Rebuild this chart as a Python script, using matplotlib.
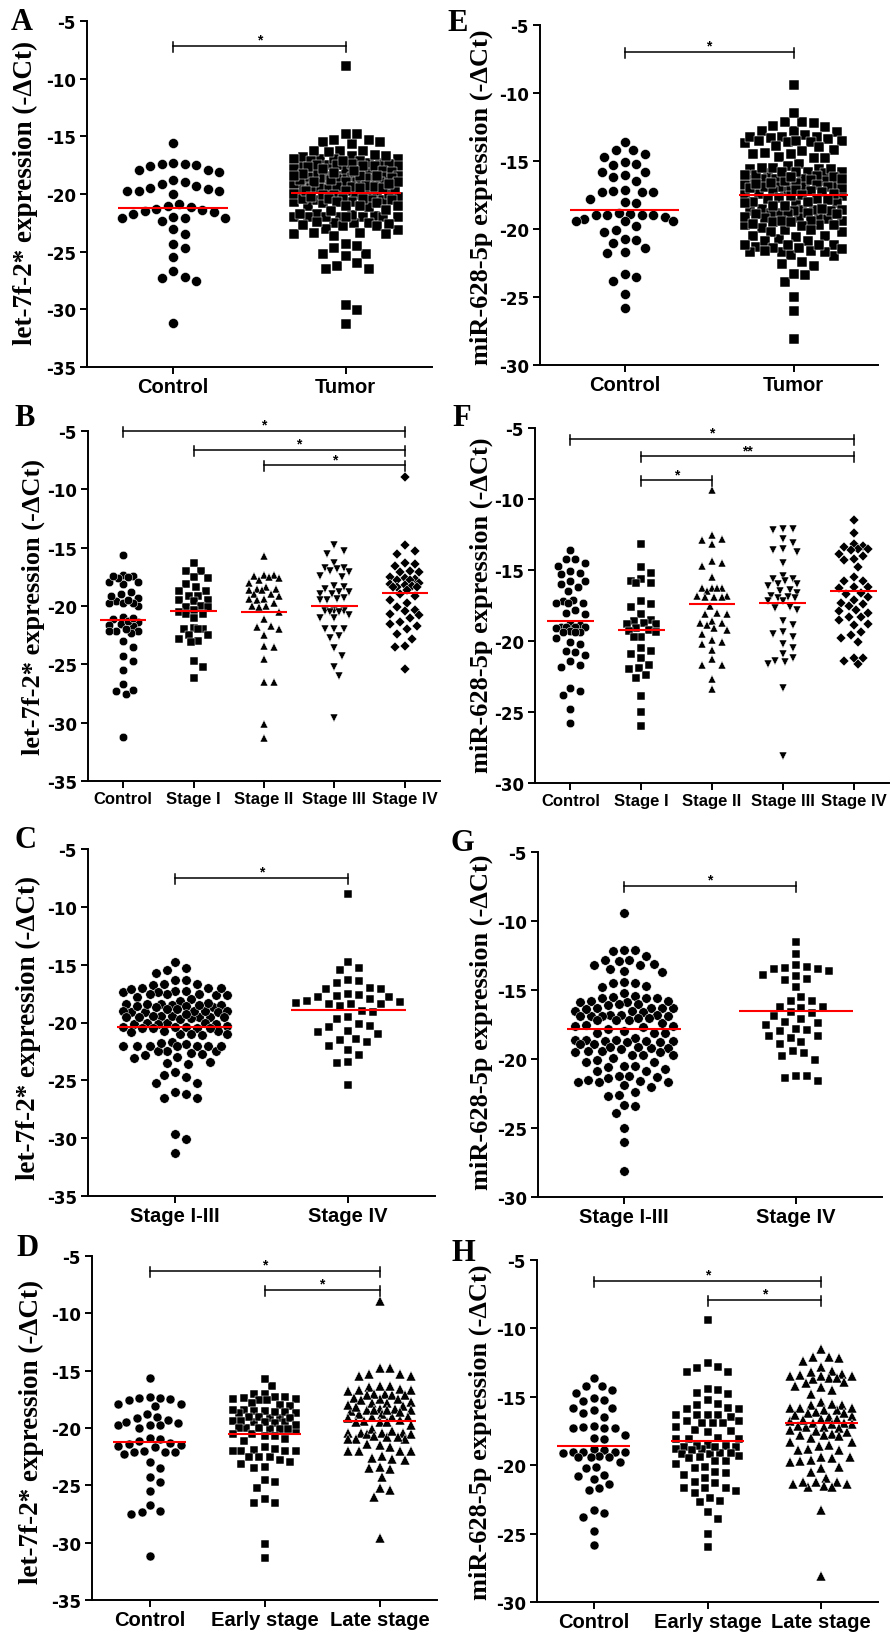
"""
Dot plots of let-7f-2* and miR-628-5p expression (-dCt) in control vs tumour
groups, laid out as the 2 x 4 panel figure (A-D left, E-H right).
Saves out.png at 891 x 1633 px.
"""

import numpy as np
import matplotlib
matplotlib.use('Agg')
import matplotlib.pyplot as plt

plt.rcParams['axes.unicode_minus'] = False

W, H = 891, 1633
SANS = 'Liberation Sans'
SERIF = 'Liberation Serif'
WIDE = 'DejaVu Sans'   # the y tick numbers in the original are wide

# ---- let-7f-2* values ----
let7_control = [-15.6, -17.3, -17.4, -17.5, -17.9, -18.1, -17.9, -17.6, -17.4, -18.8,
                -19.0, -19.3, -19.6, -19.7, -20.0, -19.7, -19.7, -19.5, -19.1,
                -20.9, -21.1, -21.4, -21.6, -21.7, -21.5, -21.3, -21.0,
                -22.1, -22.1, -22.3, -22.1, -22.0,
                -23.0, -23.5, -24.3, -24.7, -25.5, -26.7, -27.3, -27.5, -27.2, -31.2]
let7_stage1 = [-16.3, -17.0, -17.0, -17.5, -17.6, -18.1, -18.4, -18.7, -18.7, -19.1,
               -19.1, -19.5, -19.5, -19.6, -20.0, -20.1, -20.1, -20.3, -20.5, -20.7,
               -20.7, -21.0, -21.9, -22.0, -22.0, -22.0, -22.5, -22.5, -22.8, -23.0,
               -23.1, -24.7, -25.2, -26.2]
let7_stage2 = [-15.7, -17.3, -17.3, -17.4, -17.5, -17.6, -17.8, -18.0, -18.4, -18.5,
               -18.5, -18.6, -18.6, -19.0, -19.0, -19.1, -19.4, -19.4, -19.5, -19.7,
               -20.0, -20.0, -20.1, -20.5, -21.1, -21.7, -21.8, -22.0, -22.5, -23.4,
               -23.5, -24.5, -26.5, -26.5, -30.1, -31.3]
let7_stage3 = [-14.8, -15.3, -15.5, -16.3, -16.7, -16.7, -16.8, -17.0, -17.1, -17.4,
               -17.5, -18.3, -18.4, -18.5, -18.8, -18.8, -19.0, -19.0, -19.3, -19.4,
               -19.5, -19.5, -20.4, -20.4, -20.4, -20.5, -20.5, -20.8, -21.0, -21.0,
               -22.0, -22.0, -22.0, -22.6, -22.7, -23.6, -24.3, -25.2, -26.0, -29.6]
let7_stage4 = [-8.9, -14.8, -15.3, -15.5, -16.3, -16.4, -16.6, -17.0, -17.1, -17.1,
               -17.5, -17.6, -17.7, -17.8, -17.8, -18.0, -18.1, -18.2, -18.3, -18.4,
               -18.4, -18.4, -18.6, -19.0, -19.1, -19.5, -19.7, -20.1, -20.3, -20.4,
               -20.7, -20.8, -21.0, -21.4, -21.5, -21.7, -22.0, -22.4, -22.8, -23.4,
               -23.5, -25.4]

# ---- miR-628-5p values ----
mir_control = [-13.6, -14.2, -14.2, -14.5, -14.7, -15.1, -15.2, -15.3, -15.8, -15.8,
               -16.0, -16.2, -16.5, -17.1, -17.2, -17.3, -17.3, -17.3, -17.8, -18.0,
               -18.1, -18.8, -18.9, -19.0, -19.0, -19.0, -19.0, -19.1, -19.3, -19.4,
               -19.4, -19.4, -19.8, -20.1, -20.2, -20.7, -20.8, -21.0, -21.4, -21.7,
               -21.8, -23.3, -23.5, -23.8, -24.8, -25.8]
mir_stage1 = [-13.2, -14.8, -15.2, -15.6, -15.8, -15.9, -15.9, -17.2, -17.4, -17.6,
              -18.1, -18.5, -18.6, -18.7, -18.8, -18.8, -19.1, -19.2, -19.3, -19.4,
              -19.7, -19.7, -20.5, -20.7, -20.9, -21.2, -21.7, -21.9, -22.0, -22.4,
              -22.6, -23.9, -25.0, -26.0]
mir_stage2 = [-9.4, -12.5, -12.8, -12.9, -13.2, -14.4, -14.5, -14.7, -15.5, -16.3,
              -16.3, -16.3, -16.3, -16.5, -16.8, -16.8, -16.9, -16.9, -16.9, -17.5,
              -18.0, -18.1, -18.1, -18.6, -18.7, -18.7, -18.9, -19.1, -19.2, -19.5,
              -19.9, -20.1, -20.2, -20.6, -21.3, -21.7, -21.7, -22.7, -23.4]
mir_stage3 = [-12.1, -12.1, -12.2, -12.8, -13.1, -13.5, -13.6, -13.7, -14.5, -15.4,
              -15.6, -15.6, -15.8, -16.0, -16.0, -16.1, -16.4, -16.5, -16.6, -16.8,
              -16.9, -17.0, -17.0, -17.2, -17.2, -17.6, -17.7, -17.8, -18.6, -18.9,
              -19.4, -19.5, -19.7, -20.2, -20.5, -20.9, -21.2, -21.4, -21.5, -21.6,
              -23.3, -28.1]
mir_stage4 = [-11.5, -12.4, -13.2, -13.3, -13.4, -13.5, -13.5, -13.6, -13.9, -14.0,
              -14.2, -14.3, -14.8, -15.5, -15.8, -15.8, -16.2, -16.2, -16.3, -16.6,
              -16.7, -16.9, -17.1, -17.3, -17.4, -17.5, -17.8, -17.9, -18.0, -18.3,
              -18.3, -18.5, -18.8, -18.9, -19.4, -19.6, -19.8, -20.1, -21.2, -21.2,
              -21.4, -21.6]

# pooled groups used by panels A/C/D and E/G/H
let7_tumor = let7_stage1 + let7_stage2 + let7_stage3 + let7_stage4
let7_stage1_3 = let7_stage1 + let7_stage2 + let7_stage3
let7_early = let7_stage1 + let7_stage2
let7_late = let7_stage3 + let7_stage4
mir_tumor = mir_stage1 + mir_stage2 + mir_stage3 + mir_stage4
mir_stage1_3 = mir_stage1 + mir_stage2 + mir_stage3
mir_early = mir_stage1 + mir_stage2
mir_late = mir_stage3 + mir_stage4

# red lines as drawn
mean_A = [-21.2, -19.9]
mean_B = [-21.2, -20.4, -20.5, -20.0, -18.9]
mean_C = [-20.4, -18.9]
mean_D = [-21.2, -20.5, -19.4]
mean_E = [-18.6, -17.5]
mean_F = [-18.6, -19.2, -17.4, -17.3, -16.5]
mean_G = [-17.8, -16.5]
mean_H = [-18.6, -18.2, -16.9]

labels_2 = ['Control', 'Tumor']
labels_5 = ['Control', 'Stage I', 'Stage II', 'Stage III', 'Stage IV']
labels_c = ['Stage I-III', 'Stage IV']
labels_3 = ['Control', 'Early stage', 'Late stage']

LET7_LABEL = 'let-7f-2* expression (-\u0394Ct)'
MIR_LABEL = 'miR-628-5p expression (-\u0394Ct)'


def swarm_offsets(values, ppx, ppy, diam, max_half):
    # simple beeswarm in pixel space, clamped to +-max_half (data units)
    vals = np.asarray(values, float)
    order = np.argsort(-vals, kind='stable')
    step = diam * 0.25
    n_steps = max(int(max_half * ppx / step), 0)
    cands = [0.0]
    for k in range(1, n_steps + 1):
        cands += [k * step, -k * step]
    cands = np.array(cands)
    px, py = [], []
    offs = np.zeros(len(vals))
    for i in order:
        y = vals[i] * ppy
        j = 0
        if px:
            dx = cands[:, None] - np.array(px)[None, :]
            dy = y - np.array(py)
            d = np.sqrt(dx ** 2 + dy[None, :] ** 2).min(axis=1)
            ok = np.nonzero(d >= diam)[0]
            j = ok[0] if len(ok) else int(np.argmax(d))
        px.append(cands[j])
        py.append(y)
        offs[i] = cands[j] / ppx
    return offs


def draw_panel(fig, p):
    l, r, t, b = p['rect']
    ax = fig.add_axes([l / W, 1 - b / H, (r - l) / W, (b - t) / H])
    n = len(p['groups'])
    ymin, ymax = p['ylim']
    ax.set_xlim(-0.5, n - 0.5)
    ax.set_ylim(ymin, ymax)
    ppx = (r - l) / n
    ppy = (b - t) / (ymax - ymin)

    ms_px = p['ms']
    scale = {'o': 1.0, 's': 0.92, '^': 1.05, 'v': 1.05, 'D': 0.78}
    for i, (vals, mk) in enumerate(zip(p['groups'], p['markers'])):
        offs = swarm_offsets(vals, ppx, ppy, ms_px * 1.15, p['half'])
        ax.plot(i + offs, vals, linestyle='none', marker=mk,
                ms=ms_px * scale[mk] * 0.72, color='black', mec='white',
                mew=0.35, zorder=2, clip_on=False)
        hw = p['line_hw']
        ax.plot([i - hw, i + hw], [p['means'][i]] * 2, color='#ff0000',
                lw=1.5, zorder=3, solid_capstyle='butt')

    # significance brackets
    up, dn = 4 / ppy, 6 / ppy
    for i0, i1, y, txt in p['sig']:
        ax.plot([i0, i1], [y, y], color='black', lw=1.1, clip_on=False, zorder=4)
        for xi in (i0, i1):
            ax.plot([xi, xi], [y + up, y - dn], color='black', lw=1.1,
                    clip_on=False, zorder=4)
        ax.annotate(txt, ((i0 + i1) / 2, y), xytext=(0, 4.5),
                    textcoords='offset points', ha='center', va='center',
                    fontsize=10, fontweight='bold', family=SANS, annotation_clip=False)

    for s in ('top', 'right'):
        ax.spines[s].set_visible(False)
    for s in ('left', 'bottom'):
        ax.spines[s].set_linewidth(1.4)
    yt = np.arange(ymin, ymax + 1, 5)
    ax.set_yticks(yt)
    ax.set_yticklabels([str(int(v)) for v in yt], fontsize=12,
                       fontweight='bold', family=WIDE)
    ax.set_xticks(range(n))
    ax.set_xticklabels(p['labels'], fontsize=p['xfs'], fontweight='bold', family=SANS)
    ax.tick_params(axis='both', direction='out', length=5, width=1.4, pad=2)
    ax.tick_params(axis='y', pad=3)
    ax.patch.set_visible(False)

    lx, ly = p['ylab_xy']
    fig.text(lx / W, 1 - ly / H, p['ylabel'], rotation=90, ha='center', va='center',
             fontsize=p['ylab_size'], fontweight='bold', family=SERIF)
    tx, ty = p['letter_xy']
    fig.text(tx / W, 1 - ty / H, p['letter'], ha='left', va='top',
             fontsize=22, fontweight='bold', family=SERIF)


def main():
    panels = [
        dict(letter='A', rect=(87, 432, 22, 368), ylim=(-35, -5),
             groups=[let7_control, let7_tumor], labels=labels_2, markers=['o', 's'],
             means=mean_A, sig=[(0, 1, -7.17, '*')], ylabel=LET7_LABEL,
             ylab_xy=(25, 193), ylab_size=19.5, letter_xy=(11, 8), ms=10,
             xfs=14.5, half=0.30, line_hw=0.32),
        dict(letter='E', rect=(540, 878, 26, 366), ylim=(-30, -5),
             groups=[mir_control, mir_tumor], labels=labels_2, markers=['o', 's'],
             means=mean_E, sig=[(0, 1, -6.96, '*')], ylabel=MIR_LABEL,
             ylab_xy=(481, 197), ylab_size=19, letter_xy=(447, 9), ms=10,
             xfs=14.5, half=0.30, line_hw=0.32),
        dict(letter='B', rect=(88, 440, 432, 782), ylim=(-35, -5),
             groups=[let7_control, let7_stage1, let7_stage2, let7_stage3, let7_stage4],
             labels=labels_5, markers=['o', 's', '^', 'v', 'D'], means=mean_B,
             sig=[(0, 4, -5.0, '*'), (1, 4, -6.63, '*'), (2, 4, -7.94, '*')],
             ylabel=LET7_LABEL, ylab_xy=(33, 607), ylab_size=19, letter_xy=(14, 404),
             ms=8.5, xfs=12, half=0.24, line_hw=0.33),
        dict(letter='F', rect=(535, 889, 429, 784), ylim=(-30, -5),
             groups=[mir_control, mir_stage1, mir_stage2, mir_stage3, mir_stage4],
             labels=labels_5, markers=['o', 's', '^', 'v', 'D'], means=mean_F,
             sig=[(0, 4, -5.75, '*'), (1, 4, -7.0, '**'), (1, 2, -8.69, '*')],
             ylabel=MIR_LABEL, ylab_xy=(481, 605), ylab_size=19, letter_xy=(452, 404),
             ms=8.5, xfs=12, half=0.24, line_hw=0.33),
        dict(letter='C', rect=(88, 435, 850, 1197), ylim=(-35, -5),
             groups=[let7_stage1_3, let7_stage4], labels=labels_c, markers=['o', 's'],
             means=mean_C, sig=[(0, 1, -7.5, '*')], ylabel=LET7_LABEL,
             ylab_xy=(28, 1028), ylab_size=19.5, letter_xy=(14, 826), ms=9.5,
             xfs=14.5, half=0.30, line_hw=0.33),
        dict(letter='G', rect=(538, 882, 853, 1198), ylim=(-30, -5),
             groups=[mir_stage1_3, mir_stage4], labels=labels_c, markers=['o', 's'],
             means=mean_G, sig=[(0, 1, -7.46, '*')], ylabel=MIR_LABEL,
             ylab_xy=(481, 1022), ylab_size=19, letter_xy=(451, 829), ms=9.5,
             xfs=14.5, half=0.30, line_hw=0.33),
        dict(letter='D', rect=(92, 437, 1257, 1601), ylim=(-35, -5),
             groups=[let7_control, let7_early, let7_late], labels=labels_3,
             markers=['o', 's', '^'], means=mean_D,
             sig=[(0, 2, -6.3, '*'), (1, 2, -7.97, '*')], ylabel=LET7_LABEL,
             ylab_xy=(31, 1432), ylab_size=19.5, letter_xy=(16, 1234), ms=9,
             xfs=14.5, half=0.29, line_hw=0.32),
        dict(letter='H', rect=(537, 878, 1261, 1603), ylim=(-30, -5),
             groups=[mir_control, mir_early, mir_late], labels=labels_3,
             markers=['o', 's', '^'], means=mean_H,
             sig=[(0, 2, -6.5, '*'), (1, 2, -7.9, '*')], ylabel=MIR_LABEL,
             ylab_xy=(480, 1432), ylab_size=19, letter_xy=(452, 1239), ms=9,
             xfs=14.5, half=0.29, line_hw=0.32),
    ]

    fig = plt.figure(figsize=(W / 100, H / 100), dpi=100)
    fig.patch.set_facecolor('white')
    for p in panels:
        draw_panel(fig, p)
    fig.savefig('out.png', dpi=100, facecolor='white')


if __name__ == '__main__':
    main()
